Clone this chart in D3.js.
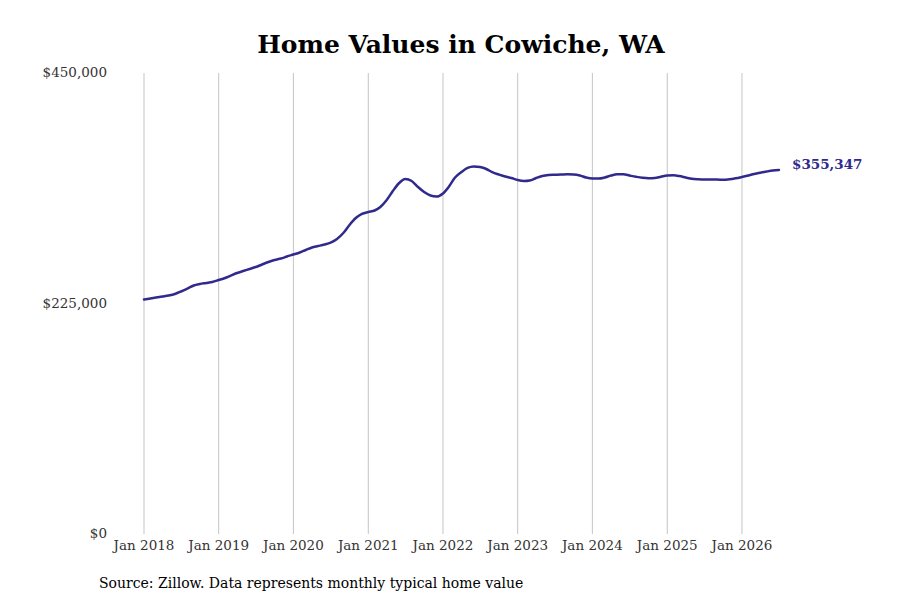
<!DOCTYPE html>
<html>
<head>
<meta charset="utf-8">
<script src="https://cdn.jsdelivr.net/npm/d3@7"></script>
<style>
  body { margin: 0; background: #fff; }
  svg { display: block; font-family: "DejaVu Serif", serif; }
</style>
</head>
<body>
<svg id="chart" width="900" height="600"></svg>
<script>
const TITLE = "Home Values in Cowiche, WA";
const SOURCE = "Source: Zillow. Data represents monthly typical home value";
const START_MONTH = "2018-01";
const Y_TICKS = [0, 225000, 450000];
const X_TICK_YEARS = [2018, 2019, 2020, 2021, 2022, 2023, 2024, 2025, 2026];

// monthly typical home value, thousands of dollars, Jan 2018 onward
const VALUES_K = [
  228.9, 229.9, 230.8, 231.8, 232.8, 234.3, 236.7, 239.6, 242.6, 244.0, 245.0, 246.0,
  247.9, 249.9, 252.3, 254.8, 256.7, 258.7, 260.6, 263.1, 265.5, 267.5, 268.9, 270.9,
  272.8, 274.8, 277.2, 279.7, 281.1, 282.6, 284.5, 288.0, 293.8, 301.6, 308.4, 312.4,
  314.3, 315.8, 319.2, 326.0, 334.8, 342.6, 346.5, 344.6, 338.7, 333.8, 330.4, 329.4,
  332.4, 339.7, 348.0, 353.3, 357.3, 358.7, 358.2, 356.3, 352.9, 350.9, 349.0, 347.5,
  345.5, 344.6, 345.1, 347.5, 349.4, 350.4, 350.7, 350.9, 351.1, 350.9, 349.9, 348.0,
  347.0, 347.0, 348.0, 349.9, 351.1, 351.1, 349.9, 348.7, 347.7, 347.2, 347.5, 348.7,
  349.9, 350.1, 349.4, 348.0, 346.7, 346.2, 346.0, 346.0, 346.0, 345.7, 346.2, 347.2,
  348.5, 349.9, 351.4, 352.7, 353.8, 354.8, 355.347,
];

const LINE_COLOR = "#2f2a8c";

const svg = d3.select("#chart");
const width = 900;
const height = 600;
const margin = { top: 73, right: 121, bottom: 66, left: 144 };

const parseMonth = d3.timeParse("%Y-%m");
const start = parseMonth(START_MONTH);
const data = VALUES_K.map((v, i) => ({ date: d3.timeMonth.offset(start, i), value: v * 1000 }));

const x = d3.scaleTime()
  .domain([start, data[data.length - 1].date])
  .range([margin.left, width - margin.right]);

const y = d3.scaleLinear()
  .domain([0, 450000])
  .range([height - margin.bottom, margin.top]);

// vertical grid
svg.append("g")
  .selectAll("line")
  .data(X_TICK_YEARS)
  .join("line")
  .attr("x1", (yr) => x(new Date(yr, 0, 1)))
  .attr("x2", (yr) => x(new Date(yr, 0, 1)))
  .attr("y1", y(450000))
  .attr("y2", y(0))
  .attr("stroke", "#c4c4c4")
  .attr("stroke-width", 1);

// x labels
svg.append("g")
  .selectAll("text")
  .data(X_TICK_YEARS)
  .join("text")
  .attr("x", (yr) => x(new Date(yr, 0, 1)))
  .attr("y", y(0) + 16)
  .attr("text-anchor", "middle")
  .attr("font-size", 13.5)
  .attr("fill", "#333")
  .text((yr) => `Jan ${yr}`);

// y labels
svg.append("g")
  .selectAll("text")
  .data(Y_TICKS)
  .join("text")
  .attr("x", 107)
  .attr("y", (d) => y(d))
  .attr("dy", "0.32em")
  .attr("text-anchor", "end")
  .attr("font-size", 13.5)
  .attr("fill", "#333")
  .text((d) => d3.format("$,")(d));

const line = d3.line()
  .x((d) => x(d.date))
  .y((d) => y(d.value))
  .curve(d3.curveMonotoneX);

svg.append("path")
  .datum(data)
  .attr("fill", "none")
  .attr("stroke", LINE_COLOR)
  .attr("stroke-width", 2.5)
  .attr("stroke-linejoin", "round")
  .attr("stroke-linecap", "round")
  .attr("d", line);

const last = data[data.length - 1];
svg.append("text")
  .attr("x", x(last.date) + 13)
  .attr("y", y(last.value) - 5)
  .attr("dy", "0.32em")
  .attr("font-size", 13.5)
  .attr("font-weight", "bold")
  .attr("fill", LINE_COLOR)
  .text(d3.format("$,")(Math.round(last.value)));

svg.append("text")
  .attr("x", 461)
  .attr("y", 44)
  .attr("dy", "0.35em")
  .attr("text-anchor", "middle")
  .attr("font-size", 25)
  .attr("font-weight", "bold")
  .attr("fill", "#000")
  .text(TITLE);

svg.append("text")
  .attr("x", 99)
  .attr("y", 583)
  .attr("dy", "0.35em")
  .attr("font-size", 14)
  .attr("fill", "#000")
  .text(SOURCE);
</script>
</body>
</html>
